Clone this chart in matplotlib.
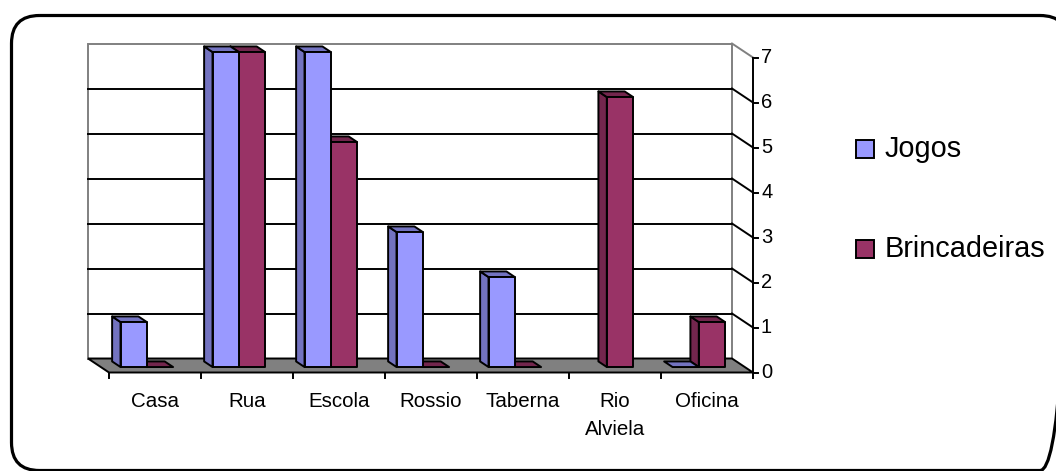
import numpy as np
import matplotlib
matplotlib.use("Agg")
import matplotlib.pyplot as plt
from matplotlib.patches import Polygon, FancyBboxPatch, Rectangle
from matplotlib.lines import Line2D
from matplotlib.transforms import Affine2D

# ---------------- data ----------------
categories = ["Casa", "Rua", "Escola", "Rossio", "Taberna", "Rio\nAlviela", "Oficina"]
jogos = [1, 7, 7, 3, 2, np.nan, 0]
brincadeiras = [0, 7, 5, 0, 0, 6, 1]
series_names = ["Jogos", "Brincadeiras"]
y_ticks = [0, 1, 2, 3, 4, 5, 6, 7]

# ---------------- style ----------------
FRONT = {"Jogos": "#9999FF", "Brincadeiras": "#993366"}
SIDE = {"Jogos": "#7373C0", "Brincadeiras": "#73264D"}
FONT = "Liberation Sans"
plt.rcParams['font.family'] = [FONT, 'DejaVu Sans']

W, H, DPI = 1056, 471, 100
fig = plt.figure(figsize=(W / DPI, H / DPI), dpi=DPI)
ax = fig.add_axes([0, 0, 1, 1])
# scale: one category = 92 px, one value unit = 45 px
PXX, PXY, OX, OY = 92.0, 45.0, 109.0, 372.5
ax.set_xlim(-OX / PXX, (W - OX) / PXX)
ax.set_ylim((OY - H) / PXY, OY / PXY)
ax.axis('off')

n = len(categories)
ymax = max(y_ticks)
Dx, Dy = -21 / PXX, 14 / PXY          # depth vector (front -> back)
LW = 1.4

# back wall
ax.add_patch(Polygon([(Dx, Dy), (n + Dx, Dy), (n + Dx, ymax + Dy), (Dx, ymax + Dy)],
                     closed=True, facecolor='white', edgecolor='#808080', lw=LW, zorder=1))
# gridlines on back wall + side diagonals
for v in y_ticks[1:]:
    col = '#808080' if v == ymax else 'black'
    if v != ymax:
        ax.add_line(Line2D([Dx, n + Dx], [v + Dy, v + Dy], color='black', lw=LW, zorder=2))
    ax.add_line(Line2D([n + Dx, n], [v + Dy, v], color=col, lw=LW, zorder=2))
# floor
ax.add_patch(Polygon([(0, 0), (n, 0), (n + Dx, Dy), (Dx, Dy)], closed=True,
                     facecolor='#808080', edgecolor='black', lw=LW, zorder=3))

# value axis (front right)
ax.add_line(Line2D([n, n], [0, ymax], color='black', lw=LW, zorder=6))
for v in y_ticks:
    ax.add_line(Line2D([n, n + 5 / PXX], [v, v], color='black', lw=LW, zorder=6))
    ax.text(n + 8 / PXX, v, str(v), fontsize=14.5, ha='left', va='center', zorder=6)
# category ticks and labels
for k in range(n + 1):
    ax.add_line(Line2D([k, k], [0, -5 / PXY], color='black', lw=LW, zorder=6))
for i, c in enumerate(categories):
    for li, line in enumerate(c.split("\n")):
        ax.text(i + 0.5, (-34.5 - 28 * li) / PXY, line, fontsize=14.8, ha='center',
                va='baseline', zorder=6)

# bars
gap = 1.5
w = 1.0 / (2 + gap)
f_front, f_depth = 0.39, 0.40
bx, by = f_front * Dx, f_front * Dy
ddx, ddy = f_depth * Dx, f_depth * Dy
vals = {"Jogos": jogos, "Brincadeiras": brincadeiras}


def draw_bar(x0, v, name, z):
    b = by
    top = b + v
    if v > 0:
        # left side face
        ax.add_patch(Polygon([(x0, b), (x0, top), (x0 + ddx, top + ddy), (x0 + ddx, b + ddy)],
                             closed=True, facecolor=SIDE[name], edgecolor='black', lw=LW,
                             joinstyle='round', zorder=z))
    # top face
    ax.add_patch(Polygon([(x0, top), (x0 + w, top), (x0 + w + ddx, top + ddy), (x0 + ddx, top + ddy)],
                         closed=True, facecolor=SIDE[name], edgecolor='black', lw=LW,
                         joinstyle='round', zorder=z))
    if v > 0:
        ax.add_patch(Polygon([(x0, b), (x0 + w, b), (x0 + w, top), (x0, top)],
                             closed=True, facecolor=FRONT[name], edgecolor='black', lw=LW,
                             joinstyle='round', zorder=z))


z = 4.0
for i in range(n - 1, -1, -1):
    x_left = i + 0.5 - w + bx
    for j, name in [(1, "Brincadeiras"), (0, "Jogos")]:
        v = vals[name][i]
        if np.isnan(v):
            continue
        draw_bar(x_left + j * w, v, name, z)
        z += 0.001

# legend
for k, name in enumerate(series_names):
    ytop = [140, 240][k]
    fig.patches.append(Rectangle((856 / W, 1 - (ytop + 18) / H), 18 / W, 18 / H,
                                 transform=fig.transFigure, facecolor=FRONT[name],
                                 edgecolor='black', lw=LW))
    fig.text(885 / W, 1 - (ytop + 17) / H, name, fontsize=20.8, ha='left', va='baseline')

# outer rounded border in pixel units (y measured from top), partly beyond the picture edge
pix_from_top = Affine2D().scale(1, -1).translate(0, H)
left, top, right, bottom, radius = 11.5, 15.5, 1068, 470.5, 28
fig.patches.append(FancyBboxPatch((left, top), right - left, bottom - top,
                                  boxstyle=f"round,pad=0,rounding_size={radius}",
                                  transform=pix_from_top, facecolor='none',
                                  edgecolor='black', lw=2.3))

fig.savefig("out.png", dpi=DPI, facecolor='white')
